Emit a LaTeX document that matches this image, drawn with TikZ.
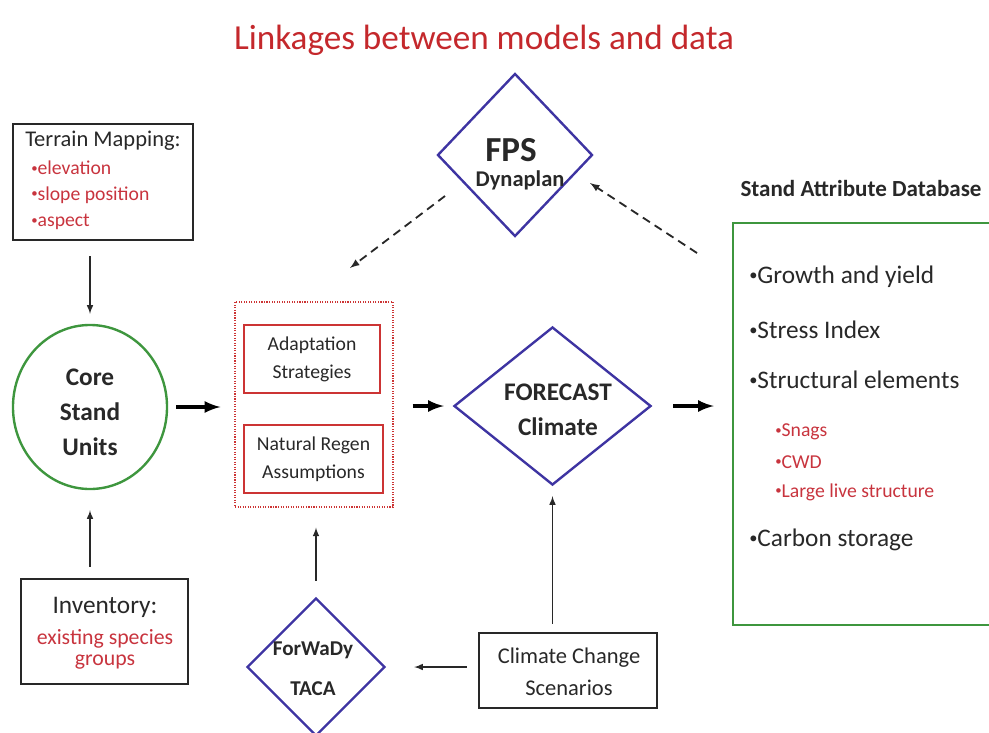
\documentclass[tikz,border=0pt]{standalone}
\usepackage{fontspec}
\setmainfont{Carlito}
\usepackage{graphicx}
\usepackage{tikz}
\usetikzlibrary{shapes.geometric}

\definecolor{ink}{RGB}{40,40,40}
\definecolor{titlered}{RGB}{196,40,44}
\definecolor{itemred}{RGB}{200,52,62}
\definecolor{framered}{RGB}{204,52,52}
\definecolor{diablue}{RGB}{62,52,162}
\definecolor{boxgreen}{RGB}{62,150,62}
\newcommand\itembul{\raisebox{0.12em}{\scalebox{0.65}{•}}}

\begin{document}
\begin{tikzpicture}[>=latex, x=0.025cm, y=-0.025cm,
  plainbox/.style={draw=ink, line width=1.7pt, inner sep=0pt},
  redbox/.style={draw=framered, line width=1.7pt, inner sep=0pt, align=center,
    text=ink, font=\fontsize{14}{20}\selectfont},
  modeldiam/.style={diamond, draw=diablue, line width=1.7pt, inner sep=0pt},
  lbl/.style={inner sep=0pt, text=ink},
  redlbl/.style={inner sep=0pt, text=itemred},
  thinarrow/.style={->, line width=1.1pt, draw=ink},
  thickarrow/.style={->, line width=2.8pt, draw=black},
  dasharrow/.style={->, line width=1.3pt, dash pattern=on 6pt off 4pt, draw=ink}]
  \useasboundingbox (0,0) rectangle (989,732);

  \node [inner sep=0pt, text=titlered, font=\fontsize{25}{30}\selectfont] (title) at (484,40)
    {Linkages between models and data};

  % left column
  \node [plainbox, minimum width=4.5cm, minimum height=2.9cm] (terrain) at (103,182) {};
  \node [lbl, font=\fontsize{16}{19}\selectfont] (terrainhd) at (103,141) {Terrain Mapping:};
  \node [redlbl, anchor=west, font=\fontsize{14}{17}\selectfont] (elev) at (31,168) {\itembul elevation};
  \node [redlbl, anchor=west, font=\fontsize{14}{17}\selectfont] (slope) at (31,195) {\itembul slope position};
  \node [redlbl, anchor=west, font=\fontsize{14}{17}\selectfont] (aspect) at (31,222) {\itembul aspect};

  \node [ellipse, draw=boxgreen, line width=1.7pt, minimum width=3.85cm, minimum height=4.1cm] (core) at (90,407) {};
  \node [lbl, font=\bfseries\fontsize{18}{22}\selectfont] (corea) at (90,377) {Core};
  \node [lbl, font=\bfseries\fontsize{18}{22}\selectfont] (coreb) at (90,412) {Stand};
  \node [lbl, font=\bfseries\fontsize{18}{22}\selectfont] (corec) at (90,447) {Units};

  \node [plainbox, minimum width=4.175cm, minimum height=2.625cm] (inventory) at (104.5,631.5) {};
  \node [lbl, font=\fontsize{18}{22}\selectfont] (invhd) at (105,607) {Inventory:};
  \node [redlbl, font=\fontsize{15.5}{19}\selectfont] (inva) at (105,639) {existing species};
  \node [redlbl, font=\fontsize{15.5}{19}\selectfont] (invb) at (105,662) {groups};

  \draw [thinarrow, shorten <=0.375cm, shorten >=0.25cm] (core.north |- terrain.south) -- (core.north);
  \draw [thinarrow, shorten <=0.275cm, shorten >=0.5cm] (core.south |- inventory.north) -- (core.south);

  % strategies
  \node [draw=framered, line width=0.8pt, densely dotted, minimum width=3.95cm, minimum height=5.125cm] (group) at (314,404.5) {};
  \node [redbox, minimum width=3.4cm, minimum height=1.7cm] (adapt) at (312,359) {Adaptation\\Strategies};
  \node [redbox, minimum width=3.475cm, minimum height=1.7cm] (regen) at (313.5,459) {Natural Regen\\Assumptions};

  \draw [thickarrow, shorten <=0.2cm, shorten >=0.35cm] (core.east) -- (core.east -| group.west);

  % models
  \node [modeldiam, minimum width=4.925cm, minimum height=3.95cm] (forecast) at (552.5,406) {};
  \node [lbl, font=\bfseries\fontsize{18}{22}\selectfont] (foreca) at (558,392) {FORECAST};
  \node [lbl, font=\bfseries\fontsize{18}{22}\selectfont] (forecb) at (558,427) {Climate};

  \node [modeldiam, minimum width=3.875cm, minimum height=4.075cm] (fps) at (515,155) {};
  \node [lbl, font=\bfseries\fontsize{25}{30}\selectfont] (fpsa) at (511,150) {FPS};
  \node [lbl, font=\bfseries\fontsize{16}{19}\selectfont] (fpsb) at (520,180) {Dynaplan};

  \node [modeldiam, minimum width=3.45cm, minimum height=3.45cm] (forwady) at (316,667) {};
  \node [lbl, font=\bfseries\fontsize{15}{18}\selectfont] (forwa) at (313,650) {ForWaDy};
  \node [lbl, font=\bfseries\fontsize{15}{18}\selectfont] (forwb) at (313,689) {TACA};

  \node [plainbox, minimum width=4.45cm, minimum height=1.875cm] (climate) at (568,670.5) {};
  \node [lbl, font=\fontsize{16}{19}\selectfont] (clima) at (569,658) {Climate Change};
  \node [lbl, font=\fontsize{16}{19}\selectfont] (climb) at (569,688) {Scenarios};

  \draw [thickarrow, shorten <=0.475cm, shorten >=0.225cm] (forecast.west -| group.east) -- (forecast.west);
  \draw [thinarrow, shorten <=0.4cm, shorten >=0.5cm] (forwady.north) -- (forwady.north |- group.south);
  \draw [thinarrow, shorten <=0.275cm, shorten >=0.7cm] (forwady.east -| climate.west) -- (forwady.east);
  \draw [thinarrow, shorten <=0.2cm, shorten >=0.25cm] (forecast.south |- climate.north) -- (forecast.south);

  % database
  \node [draw=boxgreen, line width=1.7pt, minimum width=6.5cm, minimum height=10.05cm] (db) at (863,424) {};
  \node [lbl, font=\bfseries\fontsize{16.4}{20}\selectfont] (dbhd) at (861,188) {Stand Attribute Database};
  \node [lbl, anchor=west, font=\fontsize{18}{22}\selectfont] (growth) at (749,277) {\itembul Growth and yield};
  \node [lbl, anchor=west, font=\fontsize{18}{22}\selectfont] (stress) at (749,330) {\itembul Stress Index};
  \node [lbl, anchor=west, font=\fontsize{18}{22}\selectfont] (struct) at (749,380) {\itembul Structural elements};
  \node [redlbl, anchor=west, font=\fontsize{14}{17}\selectfont] (snags) at (775,432) {\itembul Snags};
  \node [redlbl, anchor=west, font=\fontsize{14}{17}\selectfont] (cwd) at (775,462) {\itembul CWD};
  \node [redlbl, anchor=west, font=\fontsize{14}{17}\selectfont] (large) at (775,492) {\itembul Large live structure};
  \node [lbl, anchor=west, font=\fontsize{18}{22}\selectfont] (carbon) at (749,540) {\itembul Carbon storage};

  \draw [thickarrow, shorten <=0.525cm, shorten >=0.45cm] (forecast.east) -- (forecast.east -| db.west);

  % feedback to FPS
  \coordinate (fpsout) at (445,196);
  \coordinate (groupin) at (350,268);
  \coordinate (dbout) at (697,253);
  \coordinate (fpsin) at (590,183);
  \draw [dasharrow] (fpsout) -- (groupin);
  \draw [dasharrow] (dbout) -- (fpsin);
\end{tikzpicture}
\end{document}
